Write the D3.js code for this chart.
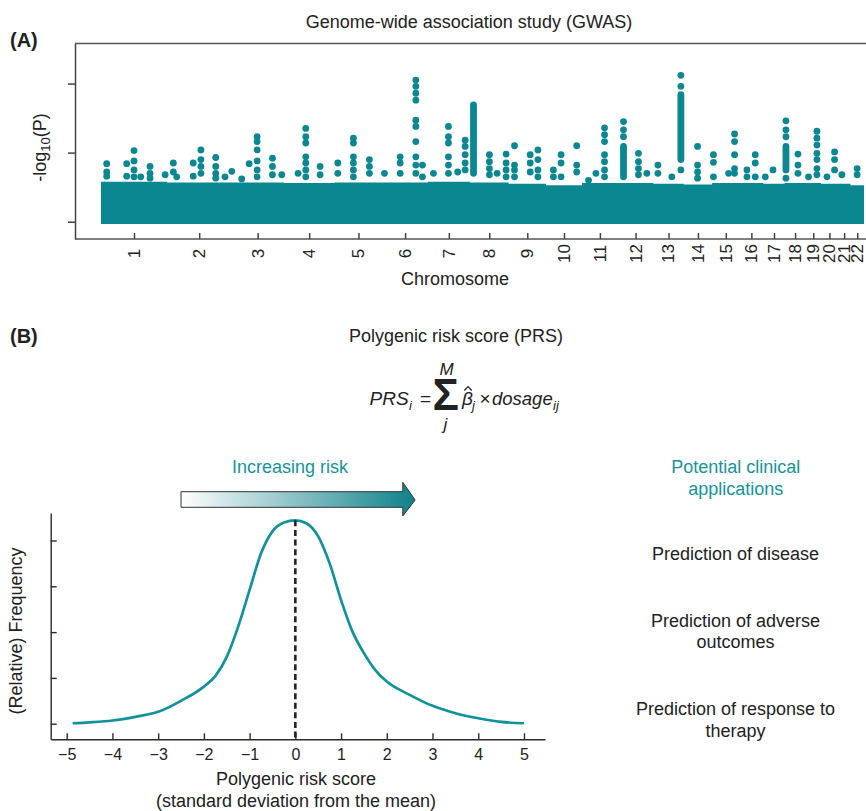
<!DOCTYPE html>
<html lang="en">
<head>
<meta charset="UTF-8">
<title>GWAS and polygenic risk score</title>
<script src="https://cdn.jsdelivr.net/npm/d3@7"></script>
<style>
  body { margin: 0; background: #fff; }
  svg { display: block; font-family: "Liberation Sans", Arial, sans-serif; }
</style>
</head>
<body>
<div id="chart"></div>
<script>
// ---- panel A data ----
var chromosomes = ["1", "2", "3", "4", "5", "6", "7", "8", "9", "10", "11",
    "12", "13", "14", "15", "16", "17", "18", "19", "20", "21", "22"];
// chromosome lengths in Mb
var chromLengths = [249, 243, 198, 191, 181, 171, 159, 146, 141, 136, 135,
    134, 115, 107, 103, 90, 81, 78, 59, 63, 48, 51];
// top of the dense cloud of non significant SNPs, -log10(P)
var cloudTop = [2.65, 2.6, 2.6, 2.55, 2.6, 2.6, 2.65, 2.6, 2.5, 2.4, 2.55,
    2.55, 2.5, 2.45, 2.55, 2.55, 2.5, 2.55, 2.55, 2.5, 2.5, 2.4];
// single visible dots: [chromosome, position (Mb), -log10(P) values]
var peaks = [
    [1, 21.5, [4.2, 3.6, 3.3]], [1, 97, [4.2, 3.3]], [1, 124.6, [5.15, 4.4, 3.75, 3.25]],
    [1, 150, [3.25]], [1, 185, [4.0, 3.5, 3.15]], [1, 242, [3.4]],
    [2, 24, [4.25, 3.6]], [2, 36.6, [3.25]], [2, 99, [4.25, 3.3]],
    [2, 128, [5.2, 4.5, 4.0, 3.5]], [2, 184, [4.65, 4.0, 3.5, 3.15]], [2, 219, [3.25]],
    [3, 1.5, [3.65]], [3, 39, [3.1]], [3, 67, [4.2]],
    [3, 97, [6.15, 5.8, 5.2, 4.4, 3.75, 3.25]], [3, 155, [4.6, 4.0, 3.4]], [3, 190, [3.4]],
    [4, 53.6, [3.5]], [4, 82.7, [6.75, 6.15, 5.7, 4.7, 4.25, 3.75, 3.25]], [4, 136.7, [4.0, 3.4]],
    [5, 12.5, [4.25, 3.5]], [5, 71.4, [6.05, 5.7, 4.7, 4.25, 3.75, 3.25]], [5, 131.8, [4.5, 4.0, 3.5]],
    [6, 7.6, [3.5]], [6, 66.8, [4.7, 4.25, 3.5]],
    [6, 126, [10.25, 9.8, 9.3, 8.8, 7.35, 6.9, 5.8, 4.7, 4.1, 3.5]], [6, 151, [4.1, 3.25]],
    [7, 21.5, [3.5]], [7, 78, [6.9, 6.15, 5.7, 4.7, 4.1, 3.5]], [7, 113, [3.6]],
    [7, 141, [5.9, 5.45, 4.85, 4.25, 3.75]],
    [8, 73.6, [4.85, 4.35, 3.85, 3.4]], [8, 102.6, [3.5]], [8, 136.6, [4.9, 4.25, 3.75, 3.25]],
    [9, 22.3, [5.5, 4.1, 3.75, 3.25]], [9, 81.5, [4.85, 4.25, 3.6]], [9, 110.6, [5.2, 4.5, 3.75, 3.25]],
    [10, 28, [3.75, 3.25]], [10, 57, [4.85, 4.25, 3.25]], [10, 116, [5.5, 4.1, 3.6]],
    [11, 24.5, [3.0]], [11, 52.4, [3.5]], [11, 85, [6.8, 6.3, 5.8, 4.85, 4.35, 3.75, 3.25]],
    [12, 21.5, [7.25, 6.65, 6.15]], [12, 78, [4.95, 4.35, 3.85, 3.4]], [12, 109.7, [3.5]],
    [13, 17.4, [4.1, 3.5]], [13, 70, [3.25]], [13, 104, [10.6, 9.8, 3.75]],
    [14, 52, [5.45, 4.1, 3.6, 3.15]],
    [15, 5, [4.85, 4.3, 3.25]], [15, 62, [3.5]], [15, 84.6, [6.35, 5.8, 4.85, 3.85, 3.5]],
    [16, 28.3, [3.75, 3.25]], [16, 59.6, [4.85, 4.25, 3.25]],
    [17, 7.5, [3.25]], [17, 36.6, [3.75]],
    [18, 4.5, [7.3, 6.65, 6.15, 3.15]], [18, 49.8, [4.9, 4.1, 3.5]],
    [19, 11.7, [3.25]], [19, 43.4, [6.55, 6.05, 5.55, 4.95, 4.5, 3.85, 3.4]],
    [20, 22.3, [3.25]], [20, 51, [5.05, 4.5, 3.75]],
    [21, 15.5, [3.4]], [22, 25, [3.85, 3.4]]
];
// tightly packed columns of dots: [chromosome, position (Mb), lowest, highest]
var runs = [
    [8, 13.6, 3.5, 8.45], [12, 21.5, 3.25, 5.45], [13, 104, 4.5, 9.2], [18, 4.5, 3.75, 5.45]
];
var gwasTicks = [0, 5, 10];

// ---- panel B data ----
var prsScore = [-4.87, -4.5, -4, -3.5, -3, -2.5, -2, -1.75, -1.5, -1.25, -1, -0.75, -0.5, -0.25,
    0, 0.25, 0.5, 0.75, 1, 1.25, 1.5, 1.75, 2, 2.5, 3, 3.5, 4, 4.5, 5];
var prsFreq = [0.01, 0.03, 0.07, 0.15, 0.26, 0.5, 0.81, 1.04, 1.46, 2.12, 2.92, 3.72, 4.2, 4.39,
    4.44, 4.37, 4.09, 3.5, 2.7, 2.01, 1.54, 1.17, 0.92, 0.63, 0.39, 0.23, 0.12, 0.04, 0.01];
var prsTicks = [-5, -4, -3, -2, -1, 0, 1, 2, 3, 4, 5];
var freqTicks = [0, 1, 2, 3, 4];
var arrowScores = [-2.5, 2.35, 2.62];   // tail, start of head, tip
var applications = [
    ["Prediction of disease"],
    ["Prediction of adverse", "outcomes"],
    ["Prediction of response to", "therapy"]
];

var teal = "#0b8791";
var ink = "#222";
var r = 3.4;

var svg = d3.select("#chart").append("svg")
    .attr("width", 866)
    .attr("height", 811);

// ================= panel A : manhattan plot =================
var ends = Array.from(d3.cumsum(chromLengths));
var starts = chromLengths.map(function(d, i) { return ends[i] - d; });
var total = ends[ends.length - 1];
var mids = chromLengths.map(function(d, i) { return starts[i] + d / 2; });

var gx = d3.scaleLinear().domain([0, total]).range([101, 864]);
var gy = d3.scaleLinear().domain([-1.25, 12.9]).range([239, 43.5]);

svg.append("text")
    .attr("x", 10).attr("y", 47)
    .attr("font-size", 20).attr("font-weight", "bold").attr("fill", ink)
    .text("(A)");

svg.append("text")
    .attr("x", 469).attr("y", 28)
    .attr("text-anchor", "middle")
    .attr("font-size", 18).attr("fill", ink)
    .text("Genome-wide association study (GWAS)");

// dense cloud as a step area
var cloud = chromLengths.map(function(d, i) { return {pos: starts[i], top: cloudTop[i]}; });
cloud.push({pos: total, top: cloudTop[cloudTop.length - 1]});
svg.append("path")
    .datum(cloud)
    .attr("fill", teal)
    .attr("d", d3.area()
        .curve(d3.curveStepAfter)
        .x(function(d) { return gx(d.pos); })
        .y0(gy(0) + r * 0.7)
        .y1(function(d) { return gy(d.top) - r; }));

// packed columns
svg.selectAll("rect.run")
    .data(runs)
    .enter()
    .append("rect")
    .attr("class", "run")
    .attr("x", function(d) { return gx(starts[d[0] - 1] + d[1]) - r; })
    .attr("y", function(d) { return gy(d[3]) - r; })
    .attr("width", 2 * r)
    .attr("height", function(d) { return gy(d[2]) - gy(d[3]) + 2 * r; })
    .attr("rx", r)
    .attr("fill", teal);

// single dots
var dots = [];
peaks.forEach(function(p) {
    p[2].forEach(function(v) { dots.push({chr: p[0], pos: p[1], p: v}); });
});
svg.selectAll("circle.snp")
    .data(dots)
    .enter()
    .append("circle")
    .attr("class", "snp")
    .attr("cx", function(d) { return gx(starts[d.chr - 1] + d.pos); })
    .attr("cy", function(d) { return gy(d.p); })
    .attr("r", r)
    .attr("fill", teal);

// frame
var frame = svg.append("g").attr("stroke", "#555").attr("stroke-width", 1.5);
frame.append("line").attr("x1", 75).attr("x2", 866).attr("y1", gy.range()[1]).attr("y2", gy.range()[1]);
frame.append("line").attr("x1", 75).attr("x2", 866).attr("y1", gy.range()[0]).attr("y2", gy.range()[0]);

svg.append("g")
    .attr("transform", "translate(75,0)")
    .attr("color", "#444")
    .call(d3.axisLeft(gy).tickValues(gwasTicks).tickSize(7).tickSizeOuter(0).tickFormat(""))
    .call(function(g) { g.selectAll("line, path").attr("stroke-width", 1.5); });

var chrAxis = svg.append("g")
    .attr("transform", "translate(0," + gy.range()[0] + ")")
    .attr("color", "#444")
    .call(d3.axisBottom(gx).tickValues(mids).tickSize(-6).tickSizeOuter(0)
        .tickFormat(function(d, i) { return chromosomes[i]; }));
chrAxis.select(".domain").remove();
chrAxis.selectAll("line").attr("stroke-width", 1.5);
chrAxis.selectAll("text")
    .attr("transform", "rotate(-90)")
    .attr("x", -14.5)
    .attr("y", 0)
    .attr("dy", "0.32em")
    .attr("text-anchor", "middle")
    .attr("font-size", 17)
    .attr("font-family", "Liberation Sans, Arial, sans-serif")
    .attr("fill", ink);

svg.append("text")
    .attr("x", 455).attr("y", 285)
    .attr("text-anchor", "middle")
    .attr("font-size", 18).attr("fill", ink)
    .text("Chromosome");

var ylab = svg.append("text")
    .attr("transform", "translate(46,147.5) rotate(-90)")
    .attr("text-anchor", "middle")
    .attr("font-size", 18).attr("fill", ink);
ylab.append("tspan").text("-log");
ylab.append("tspan").attr("font-size", 13).attr("dy", 4).text("10");
ylab.append("tspan").attr("dy", -4).text("(P)");

// ================= panel B : PRS =================
svg.append("text")
    .attr("x", 10).attr("y", 343)
    .attr("font-size", 20).attr("font-weight", "bold").attr("fill", ink)
    .text("(B)");

svg.append("text")
    .attr("x", 456).attr("y", 342)
    .attr("text-anchor", "middle")
    .attr("font-size", 18).attr("fill", ink)
    .text("Polygenic risk score (PRS)");

// formula
var f = svg.append("g").attr("fill", ink).attr("font-style", "italic");
f.append("text").attr("x", 369.5).attr("y", 405).attr("font-size", 19).text("PRS");
f.append("text").attr("x", 409).attr("y", 410).attr("font-size", 13).text("i");
f.append("text").attr("x", 425.5).attr("y", 405).attr("font-size", 19)
    .attr("font-style", "normal").attr("text-anchor", "middle").text("=");
f.append("text").attr("x", 432.5).attr("y", 410).attr("font-size", 44)
    .attr("font-style", "normal").attr("font-weight", "bold").text("Σ");
f.append("text").attr("x", 446.5).attr("y", 375).attr("font-size", 17)
    .attr("text-anchor", "middle").text("M");
f.append("text").attr("x", 445.5).attr("y", 430).attr("font-size", 17)
    .attr("text-anchor", "middle").text("j");
f.append("text").attr("x", 462).attr("y", 405).attr("font-size", 19).text("β");
f.append("path")
    .attr("d", "M464.3,390.5L468.1,386.6L471.7,390.5")
    .attr("fill", "none").attr("stroke", ink).attr("stroke-width", 1.2);
f.append("text").attr("x", 472).attr("y", 410).attr("font-size", 13).text("j");
f.append("text").attr("x", 485).attr("y", 405).attr("font-size", 19)
    .attr("font-style", "normal").attr("text-anchor", "middle").text("×");
f.append("text").attr("x", 492).attr("y", 405).attr("font-size", 18.5).text("dosage");
f.append("text").attr("x", 553).attr("y", 410).attr("font-size", 13).text("ij");

var px = d3.scaleLinear().domain([-5.35, 5.46]).range([50.7, 545]);
var py = d3.scaleLinear().domain([-0.34, 4.6]).range([739.3, 513]);

// increasing risk arrow
var grad = svg.append("defs").append("linearGradient")
    .attr("id", "riskGrad")
    .attr("x1", "0%").attr("x2", "100%").attr("y1", "0%").attr("y2", "0%");
grad.append("stop").attr("offset", "0%").attr("stop-color", "#ffffff");
grad.append("stop").attr("offset", "100%").attr("stop-color", "#0f8189");

var ax0 = px(arrowScores[0]), ax1 = px(arrowScores[1]), ax2 = px(arrowScores[2]);
svg.append("path")
    .attr("d", d3.line()([
        [ax0, 491.7], [ax1, 491.7], [ax1, 482.3], [ax2, 500], [ax1, 516],
        [ax1, 507.3], [ax0, 507.3]
    ]) + "Z")
    .attr("fill", "url(#riskGrad)")
    .attr("stroke", "#333")
    .attr("stroke-width", 1);

svg.append("text")
    .attr("x", 290).attr("y", 473)
    .attr("text-anchor", "middle")
    .attr("font-size", 18).attr("fill", "#17939b")
    .text("Increasing risk");

// curve
var pts = prsScore.map(function(d, i) { return [d, prsFreq[i]]; });
svg.append("path")
    .datum(pts)
    .attr("fill", "none")
    .attr("stroke", "#11929a")
    .attr("stroke-width", 2.7)
    .attr("d", d3.line()
        .curve(d3.curveMonotoneX)
        .x(function(d) { return px(d[0]); })
        .y(function(d) { return py(d[1]); }));

// mean line
svg.append("line")
    .attr("x1", px(0)).attr("x2", px(0))
    .attr("y1", py(d3.max(prsFreq)))
    .attr("y2", py.range()[0])
    .attr("stroke", "#222")
    .attr("stroke-width", 2.6)
    .attr("stroke-dasharray", "6,3.6");

var xAxis = svg.append("g")
    .attr("transform", "translate(0," + py.range()[0] + ")")
    .attr("color", "#2b2b2b")
    .call(d3.axisBottom(px).tickValues(prsTicks).tickSize(-6).tickSizeOuter(0).tickPadding(9)
        .tickFormat(function(d) { return d < 0 ? "\u2212" + Math.abs(d) : d; }));
xAxis.selectAll("line, path").attr("stroke-width", 1.4);
xAxis.selectAll("text")
    .attr("font-size", 16)
    .attr("font-family", "Liberation Sans, Arial, sans-serif")
    .attr("fill", ink);

svg.append("g")
    .attr("transform", "translate(" + px.range()[0] + ",0)")
    .attr("color", "#2b2b2b")
    .call(d3.axisLeft(py).tickValues(freqTicks).tickSize(-6).tickSizeOuter(0).tickFormat(""))
    .call(function(g) { g.selectAll("line, path").attr("stroke-width", 1.4); });

svg.append("text")
    .attr("x", 296).attr("y", 785)
    .attr("text-anchor", "middle")
    .attr("font-size", 18).attr("fill", ink)
    .text("Polygenic risk score");
svg.append("text")
    .attr("x", 296).attr("y", 807)
    .attr("text-anchor", "middle")
    .attr("font-size", 18).attr("fill", ink)
    .text("(standard deviation from the mean)");

svg.append("text")
    .attr("transform", "translate(21.5,631) rotate(-90)")
    .attr("text-anchor", "middle")
    .attr("font-size", 18).attr("fill", ink)
    .text("(Relative) Frequency");

// clinical applications
var side = svg.append("g").attr("text-anchor", "middle").attr("font-size", 18);
side.append("text").attr("x", 735.7).attr("y", 473.3).attr("fill", "#17939b").text("Potential clinical");
side.append("text").attr("x", 735.7).attr("y", 495).attr("fill", "#17939b").text("applications");

var appY = [560, 626.7, 715];
applications.forEach(function(lines, i) {
    lines.forEach(function(t, j) {
        side.append("text")
            .attr("x", 735.5)
            .attr("y", appY[i] + j * 21.7)
            .attr("fill", ink)
            .text(t);
    });
});
</script>
</body>
</html>
